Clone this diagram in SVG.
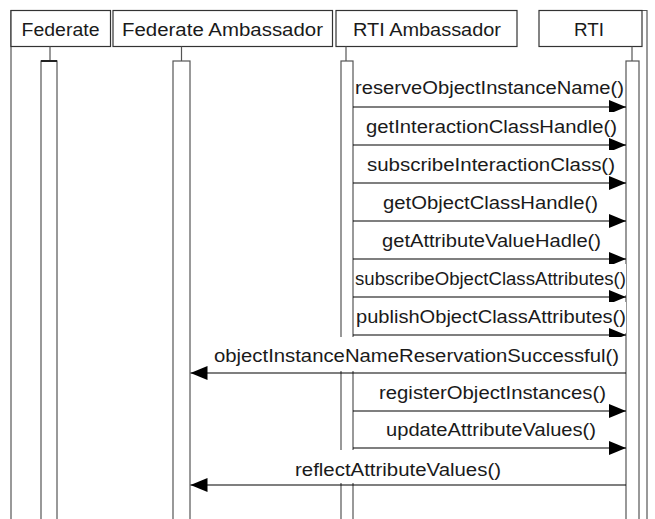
<svg xmlns="http://www.w3.org/2000/svg" width="655" height="519" viewBox="0 0 655 519">
<style>
text{font-family:"Liberation Sans",Arial,sans-serif;font-size:17.5px;fill:#1a1a1a}
.hdr{fill:#fff;stroke:#333;stroke-width:1.2}
.frame{stroke:#555;stroke-width:1.2;fill:none}
.stem{stroke:#555;stroke-width:1.2}
.bar{fill:#fff;stroke:#555;stroke-width:1.2}
.msg{stroke:#000;stroke-width:1.2;fill:none;marker-end:url(#ah)}
.lbg{fill:#fff}
</style>
<defs>
<marker id="ah" markerUnits="userSpaceOnUse" markerWidth="18" markerHeight="15" refX="17" refY="7" orient="auto">
<path d="M0,0 L17,7 L0,14 Z" fill="#000"/>
</marker>
</defs>
<rect width="655" height="519" fill="#fff"/>
<g id="frame">
<line class="frame" x1="11" y1="10" x2="11" y2="519"/>
<line class="frame" x1="647" y1="10" x2="647" y2="519"/>
<line class="frame" x1="539" y1="10.5" x2="647" y2="10.5"/>
</g>
<g id="federate">
<rect class="hdr" x="11" y="10.5" width="99.5" height="36" stroke-width="1.8"/>
<text x="21.5" y="35.5" textLength="78" lengthAdjust="spacingAndGlyphs">Federate</text>
<line class="stem" x1="50" y1="46.5" x2="50" y2="61"/>
<rect class="bar" x="41" y="61" width="16" height="470"/>
<line x1="41" y1="61" x2="57" y2="61" stroke="#222" stroke-width="2"/>
</g>
<g id="federate-ambassador">
<rect class="hdr" x="113" y="10.5" width="219.5" height="36"/>
<text x="122" y="35.5" textLength="201" lengthAdjust="spacingAndGlyphs">Federate  Ambassador</text>
<line class="stem" x1="181.5" y1="46.5" x2="181.5" y2="61"/>
<rect class="bar" x="173" y="61" width="17" height="470"/>
</g>
<g id="rti-ambassador">
<rect class="hdr" x="336" y="10.5" width="181" height="36"/>
<text x="353" y="35.5" textLength="148" lengthAdjust="spacingAndGlyphs">RTI  Ambassador</text>
<line class="stem" x1="346" y1="46.5" x2="346" y2="61"/>
<rect class="bar" x="341" y="61" width="12" height="470"/>
</g>
<g id="rti">
<rect class="hdr" x="539" y="10.5" width="103" height="36"/>
<text x="574" y="35.5" textLength="30" lengthAdjust="spacingAndGlyphs">RTI</text>
<line class="stem" x1="632" y1="46.5" x2="632" y2="61"/>
<rect class="bar" x="626" y="61" width="13" height="470"/>
</g>
<g id="connectors">
<rect class="lbg" x="355" y="74" width="269" height="31"/>
<text x="355" y="94" textLength="269" lengthAdjust="spacingAndGlyphs">reserveObjectInstanceName()</text>
<line class="msg" x1="353" y1="107" x2="626" y2="107"/>

<rect class="lbg" x="366" y="112" width="251" height="31"/>
<text x="366" y="132.5" textLength="251" lengthAdjust="spacingAndGlyphs">getInteractionClassHandle()</text>
<line class="msg" x1="353" y1="145" x2="626" y2="145"/>

<rect class="lbg" x="367" y="150" width="248" height="31"/>
<text x="367" y="170.5" textLength="248" lengthAdjust="spacingAndGlyphs">subscribeInteractionClass()</text>
<line class="msg" x1="353" y1="183" x2="626" y2="183"/>

<rect class="lbg" x="383" y="188" width="215" height="31"/>
<text x="383" y="208.5" textLength="215" lengthAdjust="spacingAndGlyphs">getObjectClassHandle()</text>
<line class="msg" x1="353" y1="221" x2="626" y2="221"/>

<rect class="lbg" x="382" y="226" width="219" height="31"/>
<text x="382" y="246.5" textLength="219" lengthAdjust="spacingAndGlyphs">getAttributeValueHadle()</text>
<line class="msg" x1="353" y1="259" x2="626" y2="259"/>

<rect class="lbg" x="355" y="264" width="271" height="31"/>
<text x="355" y="284.5" textLength="271" lengthAdjust="spacingAndGlyphs">subscribeObjectClassAttributes()</text>
<line class="msg" x1="353" y1="297" x2="626" y2="297"/>

<rect class="lbg" x="356" y="302" width="270" height="31"/>
<text x="356" y="322.5" textLength="270" lengthAdjust="spacingAndGlyphs">publishObjectClassAttributes()</text>
<line class="msg" x1="353" y1="335" x2="626" y2="335"/>

<rect class="lbg" x="212" y="337" width="409" height="34"/>
<text x="214" y="362" textLength="405" lengthAdjust="spacingAndGlyphs">objectInstanceNameReservationSuccessful()</text>
<line class="msg" x1="626" y1="373" x2="190.5" y2="373"/>

<rect class="lbg" x="379" y="378" width="228" height="31"/>
<text x="379" y="398.5" textLength="227" lengthAdjust="spacingAndGlyphs">registerObjectInstances()</text>
<line class="msg" x1="353" y1="411" x2="626" y2="411"/>

<rect class="lbg" x="386" y="415" width="210" height="31"/>
<text x="386" y="436" textLength="210" lengthAdjust="spacingAndGlyphs">updateAttributeValues()</text>
<line class="msg" x1="353" y1="448" x2="626" y2="448"/>

<rect class="lbg" x="293" y="450" width="210" height="33"/>
<text x="295" y="475.5" textLength="206" lengthAdjust="spacingAndGlyphs">reflectAttributeValues()</text>
<line class="msg" x1="626" y1="485" x2="190.5" y2="485"/>
</g>
</svg>
